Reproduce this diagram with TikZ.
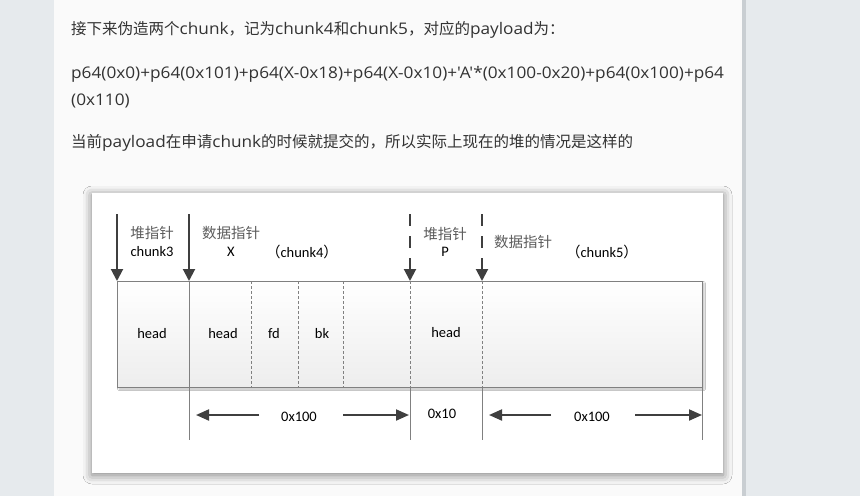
\documentclass[tikz,border=0pt]{standalone}
\usepackage{fontspec}
\setmainfont{Carlito}
\newfontfamily\cjk{Noto Sans CJK SC}
\newfontfamily\latn{Open Sans}
\newcommand{\lt}[1]{\scalebox{1.075}[1]{\latn\fontsize{16}{20}\selectfont #1}}
\usetikzlibrary{arrows.meta,shadows.blur}
\definecolor{pagebg}{HTML}{E6EAED}
\definecolor{panelbg}{HTML}{FAFAFA}
\definecolor{edgebg}{HTML}{C9CED2}
\definecolor{txt}{HTML}{333333}
\definecolor{ink}{HTML}{3F3F3F}
\definecolor{rule}{HTML}{808080}
\tikzset{
  para/.style={anchor=west, inner sep=0pt, text=txt, font=\cjk\fontsize{15.5}{20}\selectfont},
  lbl/.style={inner sep=0pt, text=black, font=\fontsize{14.5}{16}\selectfont},
  hanzi/.style={inner sep=0pt, text=ink!85, font=\cjk\fontsize{14.5}{16}\selectfont},
  ptrarrow/.style={draw=ink, line width=2pt, -{Triangle[length=12pt,width=12pt]}},
  dimarrow/.style={draw=ink, line width=2pt, -{Triangle[length=13pt,width=11pt]}},
  cellsep/.style={draw=rule, line width=0.6pt, dash pattern=on 3pt off 2pt},
  wall/.style={draw=rule, line width=0.9pt}
}
\begin{document}
\begin{tikzpicture}[x=1pt, y=-1pt]
    % page
    \fill [pagebg] (0, 0) rectangle (860, 496);
    \fill [panelbg] (54, 0) rectangle (742, 496);
    \fill [edgebg] (742, 0) rectangle (746, 496);
    \useasboundingbox (0, 0) rectangle (860, 496);

    \node [para] (line1) at (71, 30) {接下来伪造两个\lt{chunk}，记为\lt{chunk4}和\lt{chunk5}，对应的\lt{payload}为：};
    \node [para] (line2) at (71, 74) {\lt{p64(0x0)+p64(0x101)+p64(X-0x18)+p64(X-0x10)+'A'*(0x100-0x20)+p64(0x100)+p64}};
    \node [para] (line3) at (71, 101) {\lt{(0x110)}};
    \node [para] (line4) at (71, 143) {当前\lt{payload}在申请\lt{chunk}的时候就提交的，所以实际上现在的堆的情况是这样的};

    % picture frame
    \fill [white, blur shadow={shadow xshift=0pt, shadow yshift=-2pt, shadow blur radius=9pt, shadow opacity=50}] (92, 193) rectangle (723, 473);

    % heap block
    \shade [top color=white, bottom color=black!7, blur shadow={shadow xshift=2pt, shadow yshift=-2pt, shadow blur radius=1.5pt, shadow opacity=25}] (117, 281) rectangle (702, 387);
    \draw [wall] (117, 281) rectangle (702, 387);

    \coordinate (top0) at (117, 214);
    \coordinate (top1) at (189, 214);
    \coordinate (top2) at (410, 214);
    \coordinate (top3) at (482, 214);
    \coordinate (hd0) at (117, 281);
    \coordinate (hd1) at (189, 281);
    \coordinate (hd2) at (410, 281);
    \coordinate (hd3) at (482, 281);
    \coordinate (bt2) at (410, 387);
    \coordinate (bt3) at (482, 387);
    \coordinate (bt4) at (702, 387);
    \coordinate (ft1) at (189, 440);
    \coordinate (ft2) at (410, 440);
    \coordinate (ft3) at (482, 440);
    \coordinate (ft4) at (702, 440);

    \draw [wall] (hd1) -- (ft1);
    \draw [wall] (bt2) -- (ft2);
    \draw [wall] (bt3) -- (ft3);
    \draw [wall] (bt4) -- (ft4);
    \draw [cellsep] (251, 281) -- (251, 387);
    \draw [cellsep] (298, 281) -- (298, 387);
    \draw [cellsep] (343, 281) -- (343, 387);
    \draw [cellsep] (hd2) -- (bt2);
    \draw [cellsep] (hd3) -- (bt3);

    % pointers
    \draw [ptrarrow] (top0) -- (hd0);
    \draw [ptrarrow] (top1) -- (hd1);
    \draw [ptrarrow, dash pattern=on 12pt off 10pt] (top2) -- (hd2);
    \draw [ptrarrow, dash pattern=on 12pt off 10pt] (top3) -- (hd3);

    \node [hanzi] (heap3) at (152, 233) {堆指针};
    \node [lbl] (name3) at (152, 252) {chunk3};
    \node [hanzi] (data4) at (231, 233) {数据指针};
    \node [lbl] (ptrx) at (231, 252) {X};
    \node [lbl] (name4) at (302, 252) {{\cjk（}chunk4{\cjk）}};
    \node [hanzi] (heapp) at (445, 234) {堆指针};
    \node [lbl] (ptrp) at (445, 252) {P};
    \node [hanzi] (data5) at (523, 242) {数据指针};
    \node [lbl] (name5) at (602, 252) {{\cjk（}chunk5{\cjk）}};

    \node [lbl] (head3) at (152, 334) {head};
    \node [lbl] (head4) at (223, 334) {head};
    \node [lbl] (fd4) at (274, 334) {fd};
    \node [lbl] (bk4) at (322, 334) {bk};
    \node [lbl] (headp) at (446, 333) {head};

    % sizes
    \node [lbl] (size4) at (299, 417) {0x100};
    \node [lbl] (sizep) at (442, 414) {0x10};
    \node [lbl] (size5) at (592, 417) {0x100};
    \coordinate (a4s) at (259, 415);
    \coordinate (a4l) at (196, 415);
    \coordinate (a4t) at (343, 415);
    \coordinate (a4r) at (409, 415);
    \coordinate (a5s) at (551, 415);
    \coordinate (a5l) at (489, 415);
    \coordinate (a5t) at (635, 415);
    \coordinate (a5r) at (702, 415);
    \draw [dimarrow] (a4s) -- (a4l);
    \draw [dimarrow] (a4t) -- (a4r);
    \draw [dimarrow] (a5s) -- (a5l);
    \draw [dimarrow] (a5t) -- (a5r);
\end{tikzpicture}
\end{document}
